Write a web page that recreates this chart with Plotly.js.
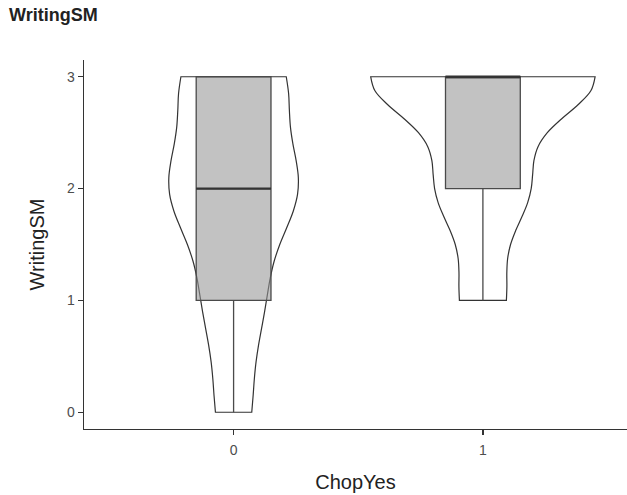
<!DOCTYPE html>
<html><head><meta charset="utf-8">
<script src="https://cdn.plot.ly/plotly-3.0.1.min.js"></script>
<style>html,body{margin:0;padding:0;background:#fff}#chart{width:627px;height:495px}</style>
</head><body><div id="chart"></div>
<script>
// Data
const categories = ['0', '1'];               // ChopYes groups
const scoreLevels = [0, 1, 2, 3];            // WritingSM values
const countsChop0 = [3, 5, 11, 9];           // counts per score, ChopYes = 0
const countsChop1 = [0, 2, 4, 10];           // counts per score, ChopYes = 1
const bandwidths = [0.452, 0.377];           // KDE bandwidths (R nrd0)
const yTickVals = [0, 1, 2, 3];
const yTickText = ['0', '1', '2', '3'];

function expand(levels, counts) {
  const out = [];
  levels.forEach((v, i) => { for (let k = 0; k < counts[i]; k++) out.push(v); });
  return out;
}
function quantile(arr, p) {
  const s = arr.slice().sort((a, b) => a - b);
  const pos = (s.length - 1) * p, lo = Math.floor(pos), hi = Math.ceil(pos);
  return s[lo] + (s[hi] - s[lo]) * (pos - lo);
}
function kdeMax(vals, bw) {
  const lo = Math.min(...vals), hi = Math.max(...vals);
  let best = 0;
  for (let j = 0; j <= 300; j++) {
    const t = lo + (hi - lo) * j / 300;
    let s = 0;
    vals.forEach(v => { const z = (t - v) / bw; s += Math.exp(-0.5 * z * z); });
    best = Math.max(best, s / (vals.length * bw * Math.sqrt(2 * Math.PI)));
  }
  return best;
}
const groups = [expand(scoreLevels, countsChop0), expand(scoreLevels, countsChop1)];
const medians = groups.map(g => quantile(g, 0.5));
// ggplot "area" scaling: widest density over all groups gets width 0.9
const peaks = groups.map((g, i) => kdeMax(g, bandwidths[i]));
const peakAll = Math.max(...peaks);
const violinWidths = peaks.map(p => 0.9 * p / peakAll);

const traces = [];
categories.forEach((c, i) => {
  traces.push({
    type: 'violin', x0: c, y: groups[i], name: c, width: violinWidths[i],
    bandwidth: bandwidths[i], spanmode: 'hard', scalemode: 'width',
    fillcolor: '#ffffff', line: { color: '#333333', width: 1.2 },
    points: false, box: { visible: false }, meanline: { visible: false },
    showlegend: false, hoverinfo: 'skip'
  });
});
categories.forEach((c, i) => {
  traces.push({
    type: 'box', x0: c, y: groups[i], name: c, width: 0.3,
    fillcolor: 'rgba(150,150,150,0.58)', line: { color: '#4a4a4a', width: 1.3 },
    whiskerwidth: 0, boxpoints: false, showlegend: false, hoverinfo: 'skip'
  });
});
traces.push({
  type: 'scatter', mode: 'markers', x: categories, y: medians,
  marker: { symbol: 'line-ew', size: 53.5, line: { color: '#333333', width: 2.4 } },
  showlegend: false, hoverinfo: 'skip'
});

const font = 'Liberation Sans, Arial, Helvetica, sans-serif';
const layout = {
  width: 627, height: 495,
  margin: { l: 84, r: 0, t: 60, b: 66 },
  paper_bgcolor: '#ffffff', plot_bgcolor: '#ffffff',
  font: { family: font, color: '#000' },
  violinmode: 'overlay', boxmode: 'overlay',
  title: { text: '<b>WritingSM</b>', font: { family: font, size: 18, color: '#222' },
    xref: 'container', x: 9 / 627, xanchor: 'left', yref: 'container', y: 1 - 15 / 495, yanchor: 'middle' },
  xaxis: {
    type: 'category', categoryarray: categories, categoryorder: 'array',
    range: [-0.6, 1.578], showline: true, linecolor: '#333', linewidth: 1.3,
    ticks: 'outside', ticklen: 5, tickcolor: '#333', tickwidth: 1.3, ticklabelstandoff: 3,
    showgrid: false, zeroline: false,
    tickfont: { family: font, size: 14, color: '#4d4d4d' },
    title: { text: 'ChopYes', font: { family: font, size: 20, color: '#222' }, standoff: 18 }
  },
  yaxis: {
    range: [-0.15, 3.15], tickvals: yTickVals, ticktext: yTickText,
    showline: true, linecolor: '#333', linewidth: 1.3,
    ticks: 'outside', ticklen: 5, tickcolor: '#333', tickwidth: 1.3,
    showgrid: false, zeroline: false,
    tickfont: { family: font, size: 14, color: '#4d4d4d' },
    title: { text: 'WritingSM', font: { family: font, size: 20, color: '#222' }, standoff: 17 }
  }
};
Plotly.newPlot('chart', traces, layout, { displayModeBar: false, staticPlot: true });
</script></body></html>
